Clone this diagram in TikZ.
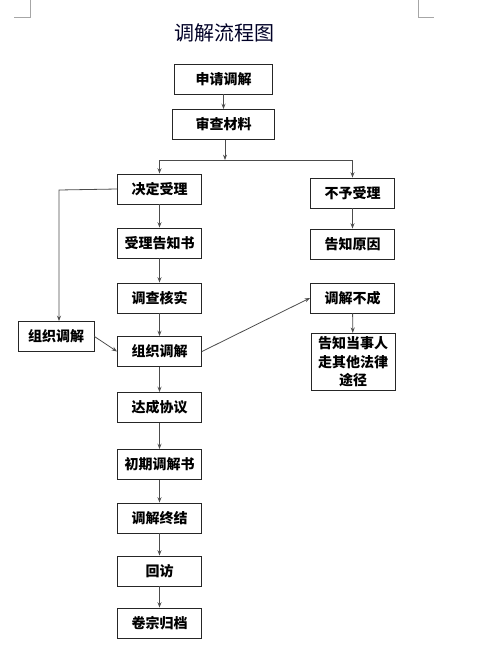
\documentclass[tikz,border=0pt]{standalone}
\usepackage{fontspec}
\newfontfamily\cjk{Noto Sans CJK SC}
\usetikzlibrary{arrows.meta, positioning}

\tikzset{
    box/.style={draw=black!85, line width=0.7pt, minimum height=22.5pt, inner sep=1pt,
        font=\cjk\bfseries\fontsize{10.5pt}{14pt}\selectfont, align=center},
    arr/.style={draw=black!70, line width=0.6pt, -{Stealth[length=4pt, width=3pt]}},
    link/.style={draw=black!70, line width=0.6pt}
}

\begin{document}
\begin{tikzpicture}[x=0.75pt, y=-0.75pt]

            \useasboundingbox (0,0) rectangle (481,661);

            % page corner marks
            \draw[black!35, line width=0.6pt] (30,0) -- (30,17) -- (14,17);
            \draw[black!35, line width=0.6pt] (418,0) -- (418,17) -- (434,17);

            \node[font=\cjk\fontsize{15pt}{18pt}\selectfont, text=black!85!blue] (title) at (224,33) {调解流程图};

            % main column
            \node[box, minimum width=73pt] (apply) at (223.5,79) {申请调解};
            \node[box, minimum width=76pt] (review) at (223.5,124.5) {审查材料};
            \foreach \name/\y/\txt in {accept/189/决定受理, notice/243/受理告知书, check/298/调查核实,
                    org/351.5/组织调解, agree/407.5/达成协议, doc/464.5/初期调解书,
                    finish/518/调解终结, visit/571/回访, archive/623/卷宗归档}{
                \node[box, minimum width=63pt] (\name) at (159.5,\y) {\txt};
            }

            % side boxes
            \node[box, minimum width=57pt] (orgL) at (56,336.5) {组织调解};
            \foreach \name/\y/\txt in {reject/193/不予受理, reason/244/告知原因, fail/298/调解不成}{
                \node[box, minimum width=63pt] (\name) at (352.5,\y) {\txt};
            }
            \node[box, minimum width=63pt, minimum height=43pt, inner sep=2pt] (inform) at (353,362)
                {告知当事人\\走其他法律\\途径};

            \coordinate (split) at (225,160);
            \coordinate (splitL) at (159.5,160);
            \coordinate (splitR) at (352.5,160);
            \coordinate (bend) at (59,190);

            \draw[arr] (apply) -- (review);
            \draw[arr] (review.south -| split) -- (split);
            \draw[link] (splitL) -- (splitR);
            \draw[arr] (splitL) -- (accept);
            \draw[arr] (splitR) -- (reject);

            \draw[arr] (accept.west) -- (bend) -- (bend |- orgL.north);
            \draw[arr] (accept) -- (notice);
            \draw[arr] (notice) -- (check);
            \draw[arr] (check) -- (org);
            \draw[arr] (orgL.east) -- (org.west);
            \draw[arr] (org.east) -- (fail.west);
            \draw[arr] (org) -- (agree);
            \draw[arr] (agree) -- (doc);
            \draw[arr] (doc) -- (finish);
            \draw[arr] (finish) -- (visit);
            \draw[arr] (visit) -- (archive);

            \draw[arr] (reject) -- (reason);
            \draw[arr] (fail) -- (inform);

        \end{tikzpicture}
\end{document}
